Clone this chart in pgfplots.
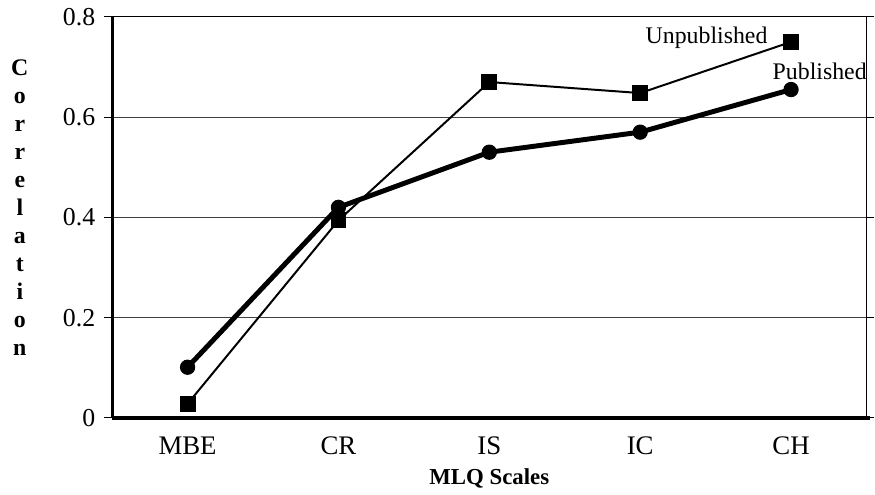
\documentclass[border=0pt]{standalone}
\usepackage{pgfplots}
\pgfplotsset{compat=1.18}
\usepackage{fontspec}
\setmainfont{Liberation Serif}
\begin{document}
\begin{tikzpicture}
\begin{axis}[
  name=main,
  scale only axis,
  width=380pt, height=202pt,
  xmin=-0.5, xmax=4.5, ymin=0, ymax=0.8,
  xtick={0,1,2,3,4},
  xticklabels={MBE,CR,IS,IC,CH},
  ytick={0,0.2,0.4,0.6,0.8},
  /pgf/number format/assume math mode=true,
  x tick style={draw=none},
  y tick style={black, line width=0.6pt},
  tick align=outside,
  major tick length=4pt,
  ymajorgrids,
  grid style={black!75, line width=0.5pt},
  axis line style={black, line width=0.6pt},
  xticklabel style={font=\fontsize{13.5}{13.5}\selectfont, yshift=-2pt},
  yticklabel style={font=\fontsize{13}{13}\selectfont, xshift=-1pt},
  clip=false,
]
\addplot[black, line width=1pt, mark=square*, mark size=3.5pt, mark options={solid}]
  coordinates {(0,0.028) (1,0.394) (2,0.67) (3,0.648) (4,0.75)};
\addplot[black, line width=2.5pt, mark=*, mark size=3.6pt, mark options={solid, line width=0.5pt}]
  coordinates {(0,0.101) (1,0.42) (2,0.53) (3,0.57) (4,0.655)};
\draw[black, line width=1.6pt] (rel axis cs:0,0) -- (rel axis cs:0,1);
\draw[black, line width=2.2pt] (rel axis cs:0,0) -- (rel axis cs:1.005,0);
\node[font=\fontsize{12}{12}\selectfont] at (axis cs:3.44,0.758) {Unpublished};
\node[font=\fontsize{12}{12}\selectfont] at (axis cs:4.19,0.691) {Published};
\end{axis}
\node[font=\bfseries\fontsize{12}{14.1}\selectfont, align=center] at (-46.5pt,106pt)
  {C\\o\\r\\r\\e\\l\\a\\t\\i\\o\\n};
\node[font=\bfseries\fontsize{11.5}{11.5}\selectfont] at (190pt,-30.5pt) {MLQ Scales};
\useasboundingbox (-56.5pt,-36pt) rectangle (381pt,210.5pt);
\end{tikzpicture}
\end{document}
